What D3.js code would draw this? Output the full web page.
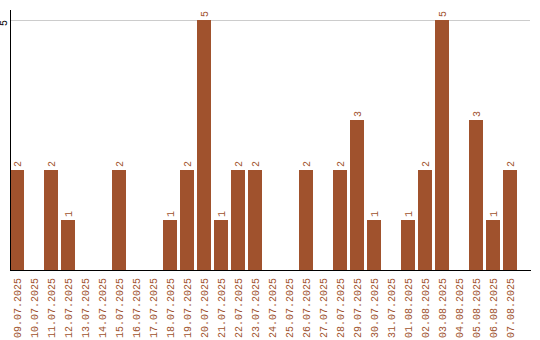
<!DOCTYPE html>
<html>
<head>
<meta charset="utf-8">
<script src="https://cdn.jsdelivr.net/npm/d3@7.9.0/dist/d3.min.js"></script>
<style>
  body { margin: 0; background: #fff; }
  svg text { font-family: "Liberation Mono", monospace; font-size: 10px; }
</style>
</head>
<body>
<svg id="chart" width="540" height="340"></svg>
<script>
// === Data ===
const dates = [
  '09.07.2025', '10.07.2025', '11.07.2025', '12.07.2025', '13.07.2025',
  '14.07.2025', '15.07.2025', '16.07.2025', '17.07.2025', '18.07.2025',
  '19.07.2025', '20.07.2025', '21.07.2025', '22.07.2025', '23.07.2025',
  '24.07.2025', '25.07.2025', '26.07.2025', '27.07.2025', '28.07.2025',
  '29.07.2025', '30.07.2025', '31.07.2025', '01.08.2025', '02.08.2025',
  '03.08.2025', '04.08.2025', '05.08.2025', '06.08.2025', '07.08.2025'
];
const counts = [2, 0, 2, 1, 0, 0, 2, 0, 0, 1, 2, 5, 1, 2, 2, 0, 0, 2, 0, 2, 3, 1, 0, 1, 2, 5, 0, 3, 1, 2];
const yTicks = [5];

const color = '#a0522d';
const svg = d3.select('#chart');

const rows = dates.map((date, i) => ({ date, value: counts[i] }));

const x = d3.scaleBand().domain(dates).range([10, 517]).paddingInner(3 / 17).paddingOuter(0);
const y = d3.scaleLinear().domain([0, 5]).range([270, 20]);

// === Grid ===
svg.selectAll('line.grid')
  .data(yTicks)
  .join('line')
  .attr('class', 'grid')
  .attr('x1', 11).attr('x2', 530)
  .attr('y1', d => y(d) + 0.5).attr('y2', d => y(d) + 0.5)
  .attr('stroke', '#ccc');

// === Bars ===
svg.selectAll('rect.bar')
  .data(rows)
  .join('rect')
  .attr('class', 'bar')
  .attr('x', d => x(d.date))
  .attr('y', d => y(d.value))
  .attr('width', x.bandwidth())
  .attr('height', d => y(0) - y(d.value))
  .attr('fill', color);

// value labels
svg.selectAll('text.val')
  .data(rows.filter(d => d.value > 0))
  .join('text')
  .attr('class', 'val')
  .attr('transform', d => `translate(${x(d.date) + x.bandwidth() / 2 + 4},${y(d.value) - 3}) rotate(-90)`)
  .attr('fill', color)
  .text(d => d.value);

// x tick labels
svg.selectAll('text.xl')
  .data(dates)
  .join('text')
  .attr('class', 'xl')
  .attr('transform', d => `translate(${x(d) + x.bandwidth() / 2 + 4},278) rotate(-90)`)
  .attr('text-anchor', 'end')
  .attr('fill', color)
  .text(d => d);

// === Axes lines ===
svg.append('line')
  .attr('x1', 10.5).attr('x2', 10.5)
  .attr('y1', 10).attr('y2', 270)
  .attr('stroke', '#000');
svg.append('line')
  .attr('x1', 10).attr('x2', 531)
  .attr('y1', 270.5).attr('y2', 270.5)
  .attr('stroke', '#000');

// y tick labels
svg.selectAll('text.yl')
  .data(yTicks)
  .join('text')
  .attr('class', 'yl')
  .attr('transform', d => `translate(7,${y(d)}) rotate(-90)`)
  .attr('text-anchor', 'end')
  .attr('fill', '#000')
  .text(d => d);
</script>
</body>
</html>
